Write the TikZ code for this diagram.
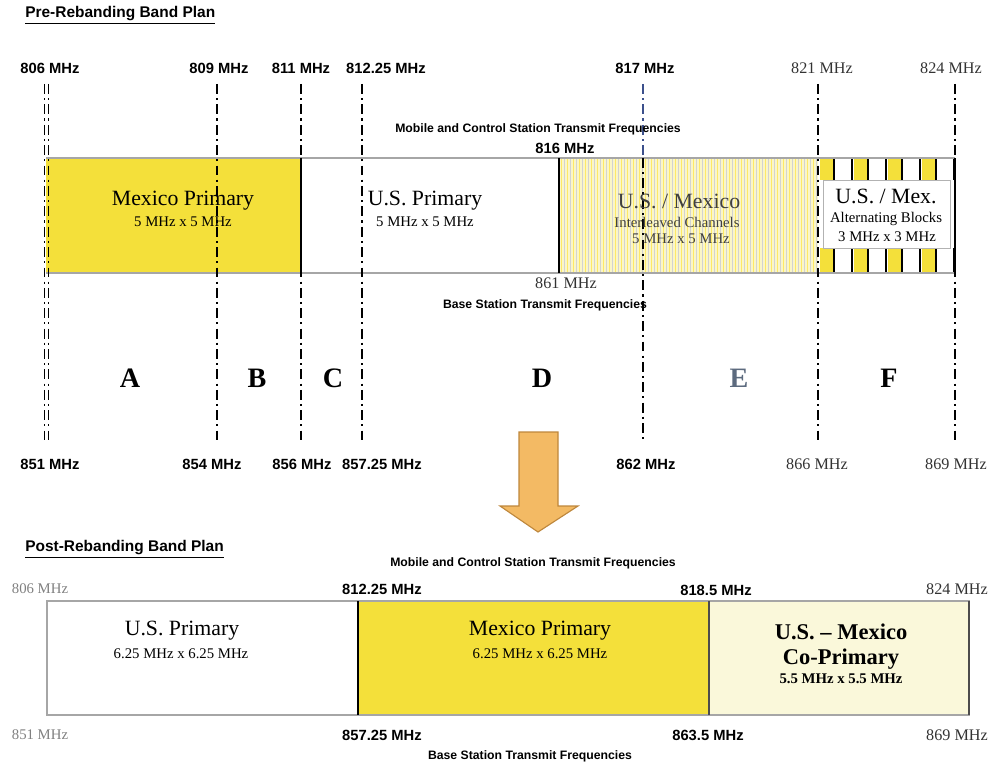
\documentclass[tikz,border=0pt]{standalone}
\usepackage{fontspec}
\setmainfont{Liberation Serif}
\newfontfamily\labelfont{Liberation Sans}
\usetikzlibrary{positioning}

\definecolor{bandyellow}{RGB}{244,224,58}
\definecolor{paleyellow}{RGB}{250,246,200}
\definecolor{creamyellow}{RGB}{250,248,218}
\definecolor{arroworange}{RGB}{243,186,100}
\definecolor{arrowedge}{RGB}{190,135,60}
\definecolor{slate}{RGB}{92,106,126}
\definecolor{edgeblue}{RGB}{60,80,140}

\begin{document}
\begin{tikzpicture}[x=0.025cm, y=-0.025cm,
  mhz/.style={font=\labelfont\bfseries\fontsize{10.5}{12}\selectfont, inner sep=0pt},
  mhzserif/.style={font=\fontsize{11.5}{13}\selectfont, inner sep=0pt, text=black!80},
  faint/.style={font=\fontsize{10.5}{12}\selectfont, inner sep=0pt, text=black!50},
  caption/.style={font=\labelfont\bfseries\fontsize{8.7}{10}\selectfont, inner sep=0pt},
  bandname/.style={font=\fontsize{15.5}{17}\selectfont, inner sep=0pt},
  bandsize/.style={font=\fontsize{10.5}{12}\selectfont, inner sep=0pt},
  blockletter/.style={font=\bfseries\fontsize{20}{22}\selectfont, inner sep=0pt},
  edge/.style={line width=1.2pt, dash pattern=on 7pt off 3pt on 1.5pt off 3pt},
  plantitle/.style={font=\labelfont\bfseries\fontsize{11}{13}\selectfont, inner sep=0pt, anchor=west}]
\useasboundingbox (0,0) rectangle (993,767);

    % --- Pre-rebanding plan ---
    \node[plantitle] (pretitle) at (25,15) {\underline{Pre-Rebanding Band Plan}};

    % band fills
    \fill[bandyellow] (46,158) rectangle (301,273);
    \fill[paleyellow] (559,158) rectangle (818,273);
    \foreach \x in {561,567,...,816} \draw[yellow!80!orange!60, line width=0.7pt] (\x,158) -- (\x,273);
    \foreach \x in {564,570,...,816} \draw[gray!35, line width=0.4pt] (\x,158) -- (\x,273);

    % alternating blocks
    \foreach \x in {820,854,888,922} {
        \fill[bandyellow] (\x,158) rectangle ++(13,22);
        \fill[bandyellow] (\x,248) rectangle ++(13,25);
        \draw[line width=1pt] (\x+14,158) -- ++(0,22) (\x+32,158) -- ++(0,22);
        \draw[line width=1pt] (\x+14,248) -- ++(0,25) (\x+32,248) -- ++(0,25);
    }
    \draw[gray!60, fill=white] (823,180) rectangle (950,248);

    % band outline
    \draw[gray!70, line width=0.8pt] (46,158) -- (955,158) (46,273) -- (955,273);
    \draw[line width=1pt] (301,158) -- (301,273) (559,158) -- (559,273) (955,158) -- (955,273);

    % channel edges
    \foreach \n/\x in {a/217,b/301,c/362,e/818,f/955} {
        \coordinate (top\n) at (\x,84);
        \coordinate (bot\n) at (\x,443);
        \draw[edge] (top\n) -- (bot\n);
    }
    \foreach \n/\x in {l/44,r/48} {
        \coordinate (top\n) at (\x,84);
        \coordinate (bot\n) at (\x,443);
        \draw[edge, line width=0.7pt] (top\n) -- (bot\n);
    }
    \coordinate (topd) at (643,84);
    \coordinate (midd) at (643,158);
    \coordinate (botd) at (643,443);
    \draw[edge, edgeblue] (topd) -- (midd);
    \draw[edge] (midd) -- (botd);

    % frequencies
    \node[mhz] (f806) at (50,68) {806 MHz};
    \node[mhz] (f809) at (219,68) {809 MHz};
    \node[mhz] (f811) at (301,68) {811 MHz};
    \node[mhz] (f812) at (386,68) {812.25 MHz};
    \node[mhz] (f817) at (645,68) {817 MHz};
    \node[mhzserif] (f821) at (822,68) {821 MHz};
    \node[mhzserif] (f824) at (951,68) {824 MHz};
    \node[caption] (mobtop) at (538,129) {Mobile and Control Station Transmit Frequencies};
    \node[mhz] (f816) at (565,148) {816 MHz};
    \node[mhzserif] (f861) at (566,283) {861 MHz};
    \node[caption] (basetop) at (545,305) {Base Station Transmit Frequencies};

    \node[mhz] (f851) at (50,464) {851 MHz};
    \node[mhz] (f854) at (212,464) {854 MHz};
    \node[mhz] (f856) at (302,464) {856 MHz};
    \node[mhz] (f857) at (382,464) {857.25 MHz};
    \node[mhz] (f862) at (646,464) {862 MHz};
    \node[mhzserif] (f866) at (817,464) {866 MHz};
    \node[mhzserif] (f869) at (956,464) {869 MHz};

    % band names
    \node[bandname] (mexpri) at (183,201) {Mexico Primary};
    \node[bandsize] (mexsize) at (183,222) {5 MHz x 5 MHz};
    \node[bandname] (uspri) at (425,201) {U.S. Primary};
    \node[bandsize] (ussize) at (425,222) {5 MHz x 5 MHz};
    \node[bandname, text=black!75] (intl) at (679,201) {U.S. / Mexico};
    \node[bandsize, text=black!75] (intlsub) at (677,222) {Interleaved Channels};
    \node[bandsize, text=black!75] (intlsize) at (681,239) {5 MHz x 5 MHz};
    \node[bandname] (alt) at (886,196) {U.S. / Mex.};
    \node[bandsize] (altsub) at (886,219) {Alternating Blocks};
    \node[bandsize] (altsize) at (887,237) {3 MHz x 3 MHz};

    % block letters
    \node[blockletter] (blkA) at (130,378) {A};
    \node[blockletter] (blkB) at (257,378) {B};
    \node[blockletter] (blkC) at (333,378) {C};
    \node[blockletter] (blkD) at (542,378) {D};
    \node[blockletter, text=slate] (blkE) at (739,378) {E};
    \node[blockletter] (blkF) at (889,378) {F};

    % --- Arrow ---
    \filldraw[fill=arroworange, draw=arrowedge, line width=0.8pt]
        (519,432) -- (558,432) -- (558,506) -- (578,506) -- (538,532) -- (500,506) -- (519,506) -- cycle;

    % --- Post-rebanding plan ---
    \node[plantitle] (posttitle) at (25,549) {\underline{Post-Rebanding Band Plan}};
    \node[caption] (mobbot) at (533,563) {Mobile and Control Station Transmit Frequencies};

    \fill[bandyellow] (358,601) rectangle (709,715);
    \fill[creamyellow] (709,601) rectangle (969,715);
    \draw[gray!70, line width=0.8pt] (47,601) rectangle (969,715);
    \draw[line width=1pt] (358,601) -- (358,715);
    \draw[black!70, line width=0.8pt] (709,601) -- (709,715) (969,601) -- (969,715);

    \node[faint] (p806) at (40,589) {806 MHz};
    \node[mhz] (p812) at (382,589) {812.25 MHz};
    \node[mhz] (p818) at (716,590) {818.5 MHz};
    \node[mhzserif] (p824) at (957,589) {824 MHz};
    \node[faint] (p851) at (40,735) {851 MHz};
    \node[mhz] (p857) at (382,735) {857.25 MHz};
    \node[mhz] (p863) at (708,735) {863.5 MHz};
    \node[mhzserif] (p869) at (957,735) {869 MHz};
    \node[caption] (basebot) at (530,756) {Base Station Transmit Frequencies};

    \node[bandname] (newus) at (182,631) {U.S. Primary};
    \node[bandsize] (newussize) at (181,654) {6.25 MHz x 6.25 MHz};
    \node[bandname] (newmex) at (540,631) {Mexico Primary};
    \node[bandsize] (newmexsize) at (540,654) {6.25 MHz x 6.25 MHz};
    \node[bandname, font=\bfseries\fontsize{16}{18}\selectfont] (copri) at (841,632) {U.S. -- Mexico};
    \node[bandname, font=\bfseries\fontsize{16}{18}\selectfont] (coprisub) at (841,659) {Co-Primary};
    \node[bandsize, font=\bfseries\fontsize{10.5}{12}\selectfont] (coprisize) at (841,679) {5.5 MHz x 5.5 MHz};

\end{tikzpicture}
\end{document}
